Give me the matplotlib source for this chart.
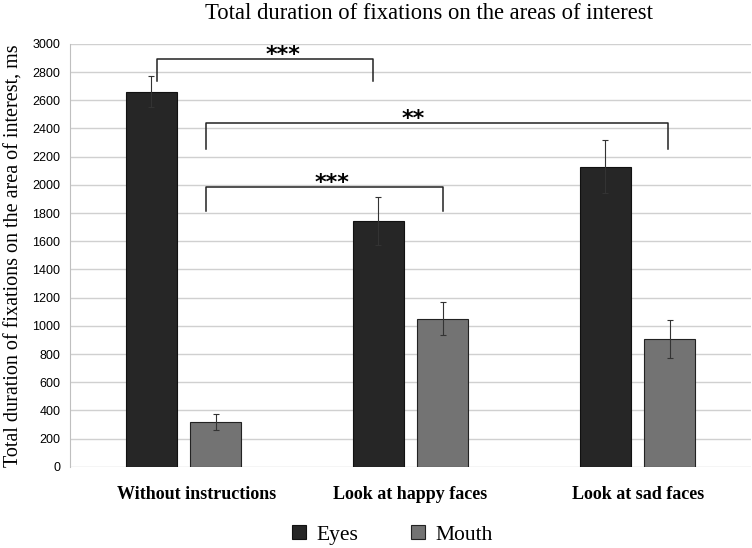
import numpy as np
import matplotlib.pyplot as plt
import matplotlib.transforms as mtransforms

categories = ['Without instructions', 'Look at happy faces', 'Look at sad faces']
eyes = [2660, 1745, 2130]
eyes_err = [110, 170, 190]
mouth = [320, 1050, 905]
mouth_err = [55, 118, 135]

# significance brackets: (x left, x right, top, leg bottom, star x, label)
brackets = [(-0.117, 0.833, 2895, 2735, 0.438, '***'),
            (0.099, 2.134, 2440, 2255, 1.011, '**'),
            (0.099, 1.143, 1985, 1815, 0.654, '***')]

fig = plt.figure(figsize=(7.52, 5.48), dpi=100)
ax = fig.add_axes([0.093, 0.148, 0.906, 0.772])

x = np.arange(len(categories))
w = 0.225
off = 0.142
ax.bar(x - off, eyes, w, yerr=eyes_err, color='#262626', edgecolor='#111111', linewidth=0.8,
       error_kw=dict(ecolor='#333333', elinewidth=0.8, capsize=2.5, capthick=0.8), label='Eyes', zorder=3)
ax.bar(x + off, mouth, w, yerr=mouth_err, color='#737373', edgecolor='#222222', linewidth=0.8,
       error_kw=dict(ecolor='#333333', elinewidth=0.8, capsize=2.5, capthick=0.8), label='Mouth', zorder=3)

for x0, x1, top, bot, xs, lab in brackets:
    ax.plot([x0, x0, x1, x1], [bot, top, top, bot], color='#222222', lw=1.1, zorder=4,
            solid_joinstyle='round')
    ax.text(xs, top - 15, lab, ha='center', va='baseline', fontsize=16,
            fontweight='bold', family='DejaVu Sans')

ax.set_xlim(-0.5, 2.5)
ax.set_ylim(0, 3000)
ax.set_yticks(range(0, 3001, 200))
ax.yaxis.grid(True, color='#d0d0d0', lw=1.0, zorder=0)
ax.set_axisbelow(True)
for s in ['top', 'right', 'bottom']:
    ax.spines[s].set_visible(False)
ax.spines['left'].set_color('#bfbfbf')
ax.tick_params(axis='y', length=0, labelsize=9, pad=7)
ax.tick_params(axis='x', length=0, pad=14)
for t in ax.get_yticklabels():
    t.set_family('Liberation Sans')
ax.set_xticks(x)
ax.set_xticklabels(categories, family='Liberation Serif', fontweight='bold', fontsize=13)
# first category label sits a little right of its group in the original
lbl = ax.get_xticklabels()[0]
lbl.set_transform(lbl.get_transform() + mtransforms.ScaledTranslation(13 / 100, 0, fig.dpi_scale_trans))

ax.set_ylabel('Total duration of fixations on the area of interest, ms', family='Liberation Serif',
              fontsize=14.5)
ax.yaxis.set_label_coords(-0.0675, 0.50)

fig.text(0.57, 0.995, 'Total duration of fixations on the areas of interest', ha='center', va='top',
         family='Liberation Serif', fontsize=16.3)

fig.legend(loc='center', bbox_to_anchor=(0.522, 0.024), ncol=2, frameon=False,
           prop={'family': 'Liberation Serif', 'size': 15.5}, handlelength=0.65, handleheight=0.65,
           columnspacing=2.45, handletextpad=0.5)

fig.savefig('out.png', dpi=100)
